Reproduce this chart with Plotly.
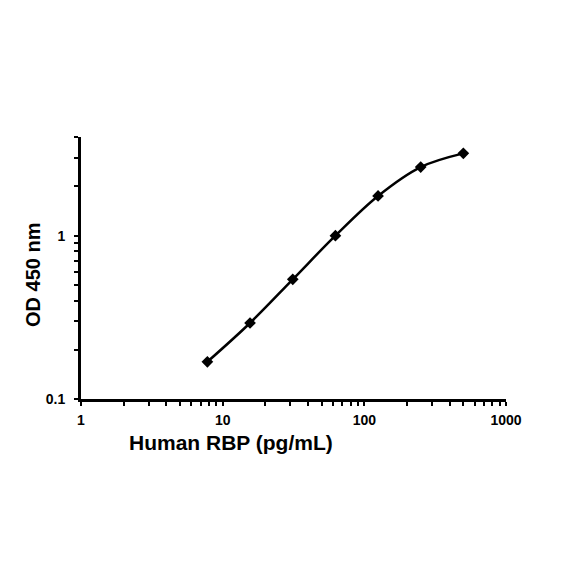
import plotly.graph_objects as go

# Curva padrão
conc = [7.8, 15.6, 31.25, 62.5, 125, 250, 500]
od = [0.169, 0.292, 0.54, 1.0, 1.75, 2.63, 3.19]

x_ticks = [1, 10, 100, 1000]
y_ticks = [0.1, 1]
x_minor = [m * d for d in [1, 10, 100] for m in range(2, 10)]
y_minor = [m * d for d in [0.1, 1] for m in range(2, 10)]

fig = go.Figure()
fig.add_trace(go.Scatter(
    x=conc, y=od, mode="lines+markers",
    line=dict(color="black", width=2.5, shape="spline"),
    marker=dict(symbol="diamond", size=9, color="black"),
))

fonte = dict(family="Liberation Sans, Arial", size=14, color="black", weight="bold")
fonte_titulo = dict(family="Liberation Sans, Arial", size=21, color="black", weight="bold")

fig.update_xaxes(
    type="log", range=[0, 3],
    tickvals=x_ticks, ticktext=[str(v) for v in x_ticks],
    showline=True, linecolor="black", linewidth=3,
    ticks="outside", ticklen=4, tickwidth=2, tickcolor="black",
    minor=dict(tickvals=x_minor, ticks="outside", ticklen=4, tickwidth=2, tickcolor="black"),
    showgrid=False, zeroline=False,
    tickfont=fonte, ticklabelstandoff=2,
)
fig.update_yaxes(
    type="log", range=[-1, 0.604],
    tickvals=y_ticks, ticktext=["0.1", "1"],
    showline=True, linecolor="black", linewidth=3,
    ticks="outside", ticklen=4, tickwidth=2, tickcolor="black",
    minor=dict(tickvals=y_minor, ticks="outside", ticklen=4, tickwidth=2, tickcolor="black"),
    showgrid=False, zeroline=False,
    tickfont=fonte, ticklabelstandoff=6,
)

fig.add_annotation(
    text="Human RBP (pg/mL)", xref="paper", yref="paper",
    x=0.354, y=-0.165, xanchor="center", yanchor="middle", showarrow=False,
    font=fonte_titulo,
)
fig.add_annotation(
    text="OD 450 nm", xref="paper", yref="paper", textangle=-90,
    x=-0.113, y=0.473, xanchor="center", yanchor="middle", showarrow=False,
    font=dict(fonte_titulo, size=20),
)

fig.update_layout(
    width=584, height=584,
    margin=dict(l=73, r=86, t=129, b=193),
    plot_bgcolor="white", paper_bgcolor="white",
    showlegend=False,
)

fig.write_html("out.html")
